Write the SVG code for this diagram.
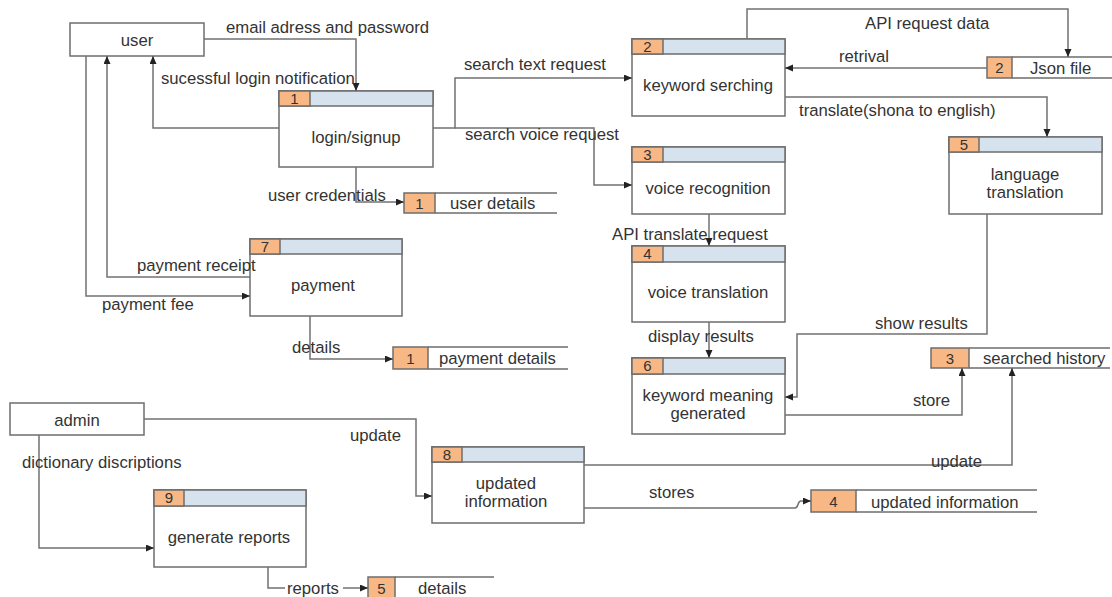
<svg xmlns="http://www.w3.org/2000/svg" width="1112" height="597" viewBox="0 0 1112 597">
<style>
text{font-family:"Liberation Sans",Arial,sans-serif;font-size:16.7px;fill:#333}
.c{text-anchor:middle}
.n{font-size:15px;text-anchor:middle}
.box{fill:#fff;stroke:#6e6e6e;stroke-width:1.5}
.hd{fill:#d7e2ef;stroke:#6e6e6e;stroke-width:1.5}
.num{fill:#f7b886;stroke:#6e6e6e;stroke-width:1.5}
.sl{stroke:#6e6e6e;stroke-width:1.5;fill:none}
.ln{stroke:#727272;stroke-width:1.5;fill:none}
.ar{marker-end:url(#ah)}
</style>
<defs>
<marker id="ah" markerUnits="userSpaceOnUse" markerWidth="9" markerHeight="8" refX="8" refY="3.5" orient="auto">
<path d="M0,0 L8,3.5 L0,7 z" fill="#222"/>
</marker>
</defs>
<rect width="1112" height="597" fill="#fff"/>

<g id="user">
<rect class="box" x="70" y="23" width="134" height="33"/>
<text class="c" x="137" y="46">user</text>
</g>
<g id="admin">
<rect class="box" x="10" y="403" width="134" height="32"/>
<text class="c" x="77" y="426">admin</text>
</g>

<g id="p1">
<rect class="box" x="279" y="91" width="154" height="76"/>
<rect class="hd" x="279" y="91" width="154" height="15"/>
<rect class="num" x="279" y="91" width="31" height="15"/>
<text class="n" x="294.5" y="104">1</text>
<text class="c" x="356" y="143">login/signup</text>
</g>
<g id="p2">
<rect class="box" x="632" y="39" width="153" height="77"/>
<rect class="hd" x="632" y="39" width="153" height="15"/>
<rect class="num" x="632" y="39" width="31" height="15"/>
<text class="n" x="647.5" y="52">2</text>
<text class="c" x="708" y="91">keyword serching</text>
</g>
<g id="p3">
<rect class="box" x="632" y="147" width="153" height="67"/>
<rect class="hd" x="632" y="147" width="153" height="15"/>
<rect class="num" x="632" y="147" width="31" height="15"/>
<text class="n" x="647.5" y="160">3</text>
<text class="c" x="708" y="194">voice recognition</text>
</g>
<g id="p4">
<rect class="box" x="632" y="246" width="153" height="76"/>
<rect class="hd" x="632" y="246" width="153" height="16"/>
<rect class="num" x="632" y="246" width="31" height="16"/>
<text class="n" x="647.5" y="259">4</text>
<text class="c" x="708" y="298">voice translation</text>
</g>
<g id="p5">
<rect class="box" x="949" y="137" width="153" height="77"/>
<rect class="hd" x="949" y="137" width="153" height="15"/>
<rect class="num" x="949" y="137" width="30" height="15"/>
<text class="n" x="964" y="150">5</text>
<text class="c" x="1025" y="180">language</text>
<text class="c" x="1025" y="198">translation</text>
</g>
<g id="p6">
<rect class="box" x="632" y="358" width="153" height="76"/>
<rect class="hd" x="632" y="358" width="153" height="16"/>
<rect class="num" x="632" y="358" width="31" height="16"/>
<text class="n" x="647.5" y="371">6</text>
<text class="c" x="708" y="401">keyword meaning</text>
<text class="c" x="708" y="419">generated</text>
</g>
<g id="p7">
<rect class="box" x="250" y="239" width="152" height="77"/>
<rect class="hd" x="250" y="239" width="152" height="15"/>
<rect class="num" x="250" y="239" width="30" height="15"/>
<text class="n" x="265" y="252">7</text>
<text class="c" x="323" y="291">payment</text>
</g>
<g id="p8">
<rect class="box" x="432" y="447" width="152" height="76"/>
<rect class="hd" x="432" y="447" width="152" height="15"/>
<rect class="num" x="432" y="447" width="30" height="15"/>
<text class="n" x="447" y="460">8</text>
<text class="c" x="506" y="489">updated</text>
<text class="c" x="506" y="507">information</text>
</g>
<g id="p9">
<rect class="box" x="154" y="490" width="152" height="77"/>
<rect class="hd" x="154" y="490" width="152" height="16"/>
<rect class="num" x="154" y="490" width="30" height="16"/>
<text class="n" x="169" y="503">9</text>
<text class="c" x="229" y="543">generate reports</text>
</g>

<g id="s1-user-details">
<path class="sl" d="M435,193 H557 M435,213 H557"/>
<rect class="num" x="404" y="193" width="31" height="20"/>
<text class="n" x="419.5" y="209">1</text>
<text x="450" y="209">user details</text>
</g>
<g id="s2-json">
<path class="sl" d="M1012,57 H1112 M1012,78 H1112"/>
<rect class="num" x="987" y="57" width="25" height="21"/>
<text class="n" x="999.5" y="73">2</text>
<text x="1030" y="74">Json file</text>
</g>
<g id="s3-history">
<path class="sl" d="M969,348 H1110 M969,368 H1110"/>
<rect class="num" x="931" y="348" width="38" height="20"/>
<text class="n" x="950" y="364">3</text>
<text x="983" y="364">searched history</text>
</g>
<g id="s1-payment-details">
<path class="sl" d="M428,347 H568 M428,369 H568"/>
<rect class="num" x="393" y="347" width="35" height="22"/>
<text class="n" x="410.5" y="364">1</text>
<text x="439" y="364">payment details</text>
</g>
<g id="s4-updated">
<path class="sl" d="M856,490 H1037 M856,512 H1037"/>
<rect class="num" x="811" y="490" width="45" height="22"/>
<text class="n" x="833.5" y="507">4</text>
<text x="871" y="508">updated information</text>
</g>
<g id="s5-details">
<path class="sl" d="M395,577 H494"/>
<rect class="num" x="368" y="577" width="27" height="24"/>
<text class="n" x="381.5" y="594">5</text>
<text x="418" y="594">details</text>
</g>

<g id="connectors">
<path class="ln ar" d="M204,39 H356 V91"/>
<path class="ln ar" d="M279,128 H153 V56"/>
<path class="ln ar" d="M356,167 V202 H404"/>
<path class="ln ar" d="M433,128 H455 V78 H632"/>
<path class="ln ar" d="M455,128 H594 V185 H632"/>
<path class="ln ar" d="M747,39 V9 H1068 V57"/>
<path class="ln ar" d="M987,68 H785"/>
<path class="ln ar" d="M785,97 H1047 V137"/>
<path class="ln ar" d="M709,214 V246"/>
<path class="ln ar" d="M709,322 V358"/>
<path class="ln ar" d="M987,214 V334 H797 V397 H785"/>
<path class="ln ar" d="M785,415 H962 V368"/>
<path class="ln ar" d="M584,465 H1012 V368"/>
<path class="ln ar" d="M584,508 H795 C799,508 797,501 801,501 H811"/>
<path class="ln ar" d="M144,419 H416 V496 H432"/>
<path class="ln ar" d="M39,435 V548 H154"/>
<path class="ln" d="M268,567 V588 H285"/>
<path class="ln ar" d="M343,588 H368"/>
<path class="ln ar" d="M86,56 V296 H250"/>
<path class="ln ar" d="M250,277 H107 V56"/>
<path class="ln ar" d="M310,316 V359 H393"/>
<text x="226" y="33">email adress and password</text>
<text x="161" y="84">sucessful login notification</text>
<text x="268" y="201">user credentials</text>
<text x="464" y="70">search text request</text>
<text x="465" y="140">search voice request</text>
<text x="865" y="29">API request data</text>
<text x="839" y="62">retrival</text>
<text x="799" y="116">translate(shona to english)</text>
<text x="612" y="240">API translate request</text>
<text x="648" y="342">display results</text>
<text x="875" y="329">show results</text>
<text x="913" y="406">store</text>
<text x="931" y="467">update</text>
<text x="649" y="498">stores</text>
<text x="350" y="441">update</text>
<text x="22" y="468">dictionary discriptions</text>
<text x="287" y="594">reports</text>
<text x="137" y="271">payment receipt</text>
<text x="102" y="310">payment fee</text>
<text x="292" y="353">details</text>
</g>
</svg>
